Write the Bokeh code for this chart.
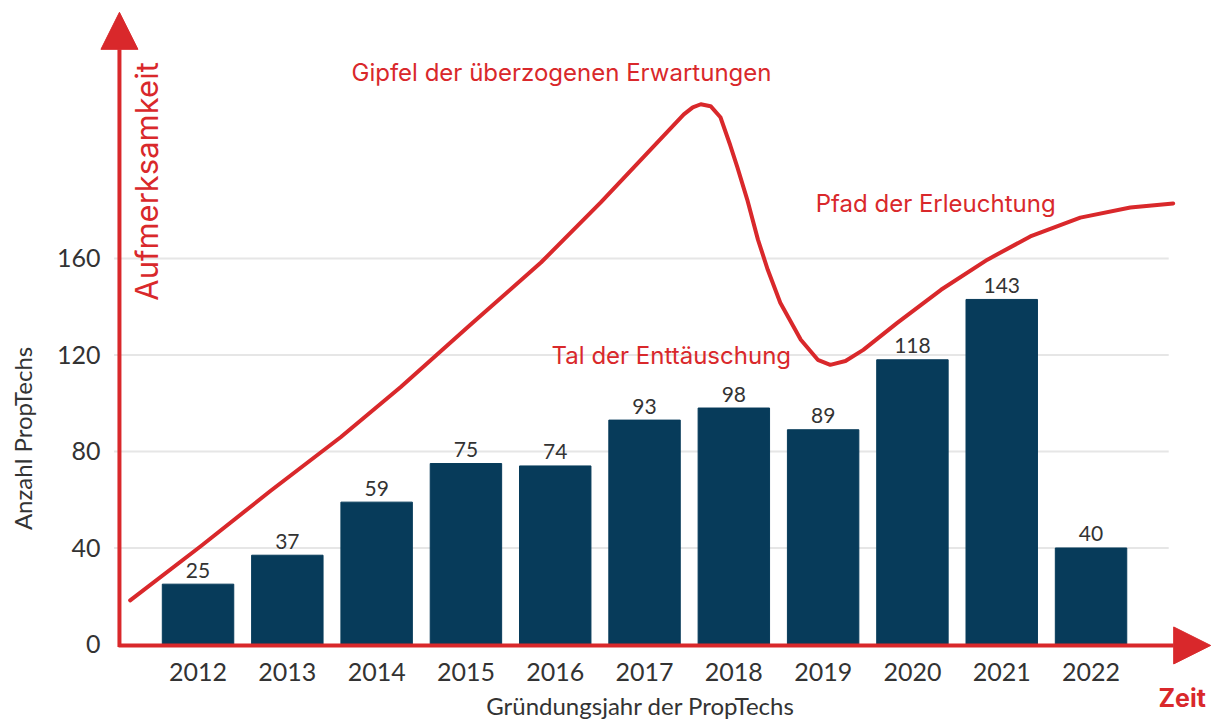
import math
from bokeh.plotting import figure
from bokeh.models import Range1d, FixedTicker, Arrow, NormalHead, Label, ColumnDataSource
from bokeh.core.properties import value
from bokeh.embed import file_html
from bokeh.resources import INLINE

# ---------------- data ----------------
years = [2012, 2013, 2014, 2015, 2016, 2017, 2018, 2019, 2020, 2021, 2022]
counts = [25, 37, 59, 75, 74, 93, 98, 89, 118, 143, 40]
y_ticks = [0, 40, 80, 120, 160]
grid_levels = [40, 80, 120, 160]

# hype-cycle curve (in year / count units)
curve_x = [2011.24, 2012.03, 2012.81, 2013.60, 2014.27, 2015.05, 2015.84, 2016.51,
           2017.07, 2017.44, 2017.54, 2017.63, 2017.74, 2017.85, 2017.96, 2018.04,
           2018.15, 2018.27, 2018.38, 2018.52, 2018.75, 2018.94, 2019.08, 2019.25,
           2019.45, 2019.83, 2020.32, 2020.84, 2021.32, 2021.88, 2022.44, 2022.92]
curve_y = [18.3, 40.7, 63.6, 86.0, 106.7, 132.5, 158.3, 183.2,
           205.2, 219.7, 222.6, 223.9, 223.1, 218.5, 206.9, 197.7,
           184.4, 167.8, 155.3, 141.6, 126.3, 118.0, 115.9, 117.5,
           122.1, 133.3, 147.0, 159.5, 169.1, 176.9, 181.1, 182.8]

phase_labels = ["Gipfel der überzogenen Erwartungen", "Tal der Enttäuschung", "Pfad der Erleuchtung"]
phase_x = [2016.07, 2017.30, 2020.26]
phase_y = [237.0, 119.6, 182.8]

x_title = "Gründungsjahr der PropTechs"
y_title = "Anzahl PropTechs"

RED = "#d9282b"
NAVY = "#073b5a"
TXT = "#333333"

x_lo, x_hi = 2009.788, 2023.349
y_lo, y_hi = -33.16, 266.9
axis_x = 2011.12
grid_end = 2022.87

p = figure(width=1211, height=724, output_backend="svg", toolbar_location=None,
           x_range=Range1d(x_lo, x_hi), y_range=Range1d(y_lo, y_hi),
           min_border_left=0, min_border_right=0, min_border_top=0, min_border_bottom=0)
p.outline_line_color = None
p.xgrid.visible = False
p.ygrid.visible = False
p.background_fill_color = "white"
p.border_fill_color = "white"

# horizontal gridlines
p.segment(x0=[axis_x - 0.06] * len(grid_levels), x1=[grid_end] * len(grid_levels),
          y0=grid_levels, y1=grid_levels, line_color="#e6e6e6", line_width=2)

# bars
src = ColumnDataSource(dict(x=years, top=counts, lab=[str(c) for c in counts]))
p.vbar(x="x", top="top", bottom=0, width=0.8, source=src, fill_color=NAVY, line_color=NAVY)
p.text(x="x", y="top", text="lab", source=src, text_align="center", text_baseline="alphabetic",
       y_offset=-14, text_font=value("Lato"), text_font_size="21px", text_color=TXT)

# hype curve
p.line(curve_x, curve_y, line_color=RED, line_width=4, line_join="round", line_cap="round")

# axes arrows
p.add_layout(Arrow(end=NormalHead(size=37, fill_color=RED, line_color=RED),
                   x_start=axis_x, y_start=-1.0, x_end=axis_x, y_end=262.0,
                   line_color=RED, line_width=4))
p.add_layout(Arrow(end=NormalHead(size=37, fill_color=RED, line_color=RED),
                   x_start=axis_x - 0.01, y_start=-0.4, x_end=2023.34, y_end=-0.4,
                   line_color=RED, line_width=4))

# phase labels
for t, xx, yy in zip(phase_labels, phase_x, phase_y):
    p.add_layout(Label(x=xx, y=yy, text=t, text_align="center", text_baseline="middle",
                       text_font="Inter", text_font_size="24px", text_color=RED))
p.add_layout(Label(x=2011.42, y=191.9, text="Aufmerksamkeit", angle=math.pi / 2,
                   text_align="center", text_baseline="middle",
                   text_font="Inter", text_font_size="31px", text_color=RED))
p.add_layout(Label(x=2023.02, y=-22.0, text="Zeit", text_align="center", text_baseline="middle",
                   text_font="Inter", text_font_size="25px", text_font_style="bold", text_color=RED))

# axis titles
p.add_layout(Label(x=2016.955, y=-25.3, text=x_title, text_align="center", text_baseline="middle",
                   text_font="Lato", text_font_size="24px", text_color=TXT))
p.add_layout(Label(x=2010.035, y=85.4, text=y_title, angle=math.pi / 2,
                   text_align="center", text_baseline="middle",
                   text_font="Lato", text_font_size="24px", text_color=TXT))

# x axis (tick labels pulled up into the frame area)
xa = p.xaxis[0]
xa.ticker = FixedTicker(ticks=years)
xa.axis_line_color = None
xa.major_tick_line_color = None
xa.minor_tick_line_color = None
xa.major_tick_out = 0
xa.major_tick_in = 0
xa.major_label_standoff = -62
xa.major_label_text_font = "Lato"
xa.major_label_text_font_size = "25px"
xa.major_label_text_color = TXT

# y axis (tick labels pulled right into the frame area)
ya = p.yaxis[0]
ya.ticker = FixedTicker(ticks=y_ticks)
ya.axis_line_color = None
ya.major_tick_line_color = None
ya.minor_tick_line_color = None
ya.major_tick_out = 0
ya.major_tick_in = 0
ya.major_label_standoff = -100
ya.major_label_text_font = "Lato"
ya.major_label_text_font_size = "25px"
ya.major_label_text_color = TXT

open("out.html", "w").write(file_html(p, INLINE))
